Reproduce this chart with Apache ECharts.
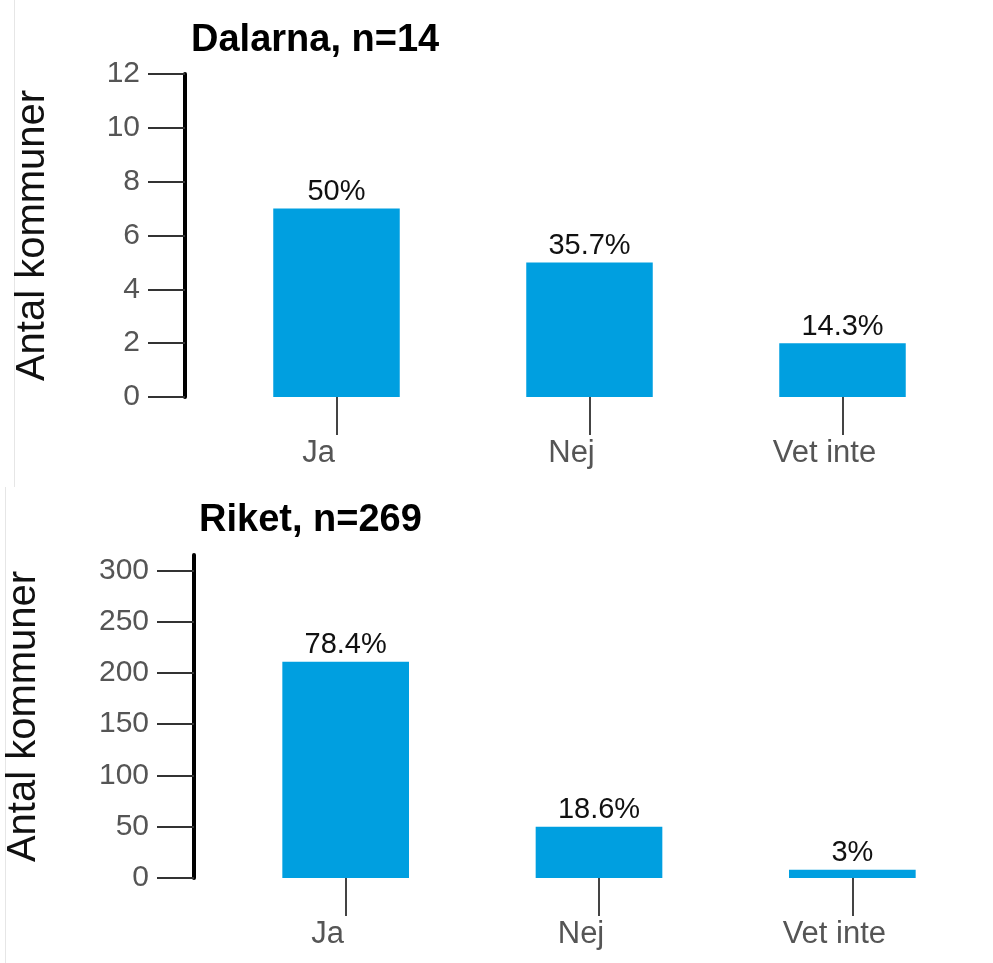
<!DOCTYPE html>
<html>
<head>
<meta charset="utf-8">
<script src="https://cdn.jsdelivr.net/npm/echarts@6/dist/echarts.min.js"></script>
<style>
  html, body { margin: 0; padding: 0; background: #fff; }
  #wrap { position: relative; width: 993px; height: 963px; }
  #chart { position: absolute; left: 0; top: 0; width: 993px; height: 963px; }
  .edge { position: absolute; width: 1px; background: #e6e6e6; }
</style>
</head>
<body>
<div id="wrap">
  <div class="edge" style="left:14px; top:0; height:487px;"></div>
  <div class="edge" style="left:5px; top:487px; height:476px;"></div>
  <div id="chart"></div>
</div>
<script>
// kategorier
const categories = ['Ja', 'Nej', 'Vet inte']
// Dalarna, n=14
const dalarnaTitle = 'Dalarna, n=14'
const dalarnaCounts = [7, 5, 2]
const dalarnaPct = ['50%', '35.7%', '14.3%']
const dalarnaTicks = [0, 2, 4, 6, 8, 10, 12]
// Riket, n=269
const riketTitle = 'Riket, n=269'
const riketCounts = [211, 50, 8]
const riketPct = ['78.4%', '18.6%', '3%']
const riketTicks = [0, 50, 100, 150, 200, 250, 300]

const font = 'Liberation Sans, Arial, sans-serif'
const barColor = '#009fe0'

function xAxisFor (gridIndex) {
  return {
    type: 'category',
    gridIndex: gridIndex,
    data: categories,
    axisLine: { show: false },
    axisTick: { show: true, alignWithLabel: true, length: 38, lineStyle: { color: '#444', width: 2 } },
    // etiketterna sitter lite till vänster om strecken
    axisLabel: { margin: 41, color: '#555', fontSize: 31, fontFamily: font, padding: [0, 36, 0, 0] }
  }
}

function yAxisFor (gridIndex, max, ticks, nameGap) {
  return {
    type: 'value',
    gridIndex: gridIndex,
    min: 0,
    max: max,
    offset: 25,
    name: 'Antal kommuner',
    nameLocation: 'middle',
    nameRotate: 90,
    nameGap: nameGap,
    nameTextStyle: { color: '#111', fontSize: 40, fontFamily: font },
    splitLine: { show: false },
    axisLine: { show: true, lineStyle: { color: '#000', width: 4 } },
    axisTick: { show: true, length: 37, customValues: ticks, lineStyle: { color: '#333', width: 2 } },
    axisLabel: { margin: 45, customValues: ticks, color: '#555', fontSize: 30, fontFamily: font }
  }
}

function barSeries (idx, counts, pct) {
  return {
    type: 'bar',
    xAxisIndex: idx,
    yAxisIndex: idx,
    data: counts,
    barWidth: '50%',
    itemStyle: { color: barColor },
    label: {
      show: true,
      position: 'top',
      distance: 2,
      color: '#111',
      fontSize: 29,
      fontFamily: font,
      formatter: p => pct[p.dataIndex]
    }
  }
}

const myChart = echarts.init(document.getElementById('chart'))
const option = {
  animation: false,
  title: [
    { text: dalarnaTitle, left: 186, top: 17, textStyle: { fontSize: 38, fontWeight: 'bold', color: '#000', fontFamily: font } },
    { text: riketTitle, left: 194, top: 497, textStyle: { fontSize: 38, fontWeight: 'bold', color: '#000', fontFamily: font } }
  ],
  grid: [
    { left: 210, width: 759, top: 74, height: 323, outerBoundsMode: 'none' },
    { left: 219, width: 760, top: 555, height: 323, outerBoundsMode: 'none' }
  ],
  xAxis: [xAxisFor(0), xAxisFor(1)],
  yAxis: [yAxisFor(0, 12, dalarnaTicks, 132), yAxisFor(1, 315, riketTicks, 150)],
  series: [barSeries(0, dalarnaCounts, dalarnaPct), barSeries(1, riketCounts, riketPct)]
}
myChart.setOption(option)
</script>
</body>
</html>
